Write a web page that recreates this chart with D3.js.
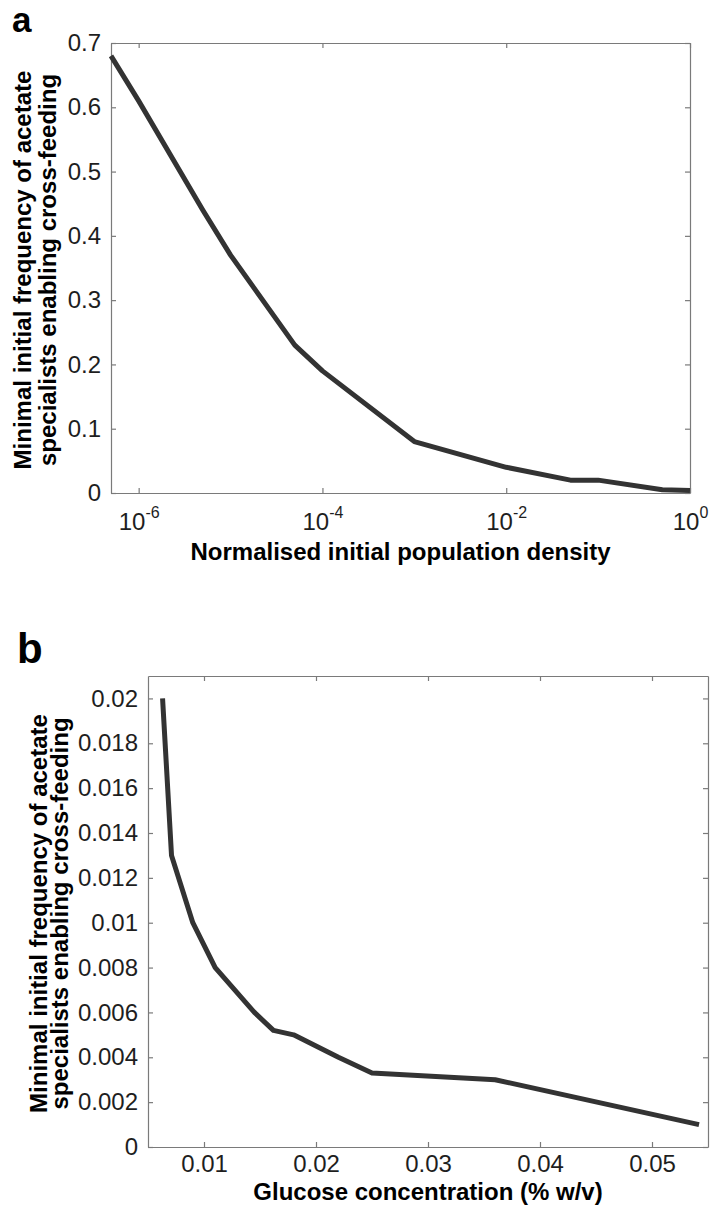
<!DOCTYPE html>
<html>
<head>
<meta charset="utf-8">
<script src="https://cdn.jsdelivr.net/npm/d3@7"></script>
<style>
    body { margin: 0; background: #fff; }
    svg text { font-family: "Liberation Sans", Arial, Helvetica, sans-serif; }
    .axis path, .axis line { stroke: #7a7a7a; stroke-width: 1.2; }
    .axis text { font-size: 24px; fill: #1e1e1e; }
    .title { font-size: 24px; font-weight: bold; fill: #000; }
    .panel-letter { font-weight: bold; fill: #000; }
</style>
</head>
<body>
<div id="chart"></div>
<script>
// panel a: threshold vs normalised initial population density
const densityValues = [5e-7, 1e-6, 5e-6, 1e-5, 5e-5, 1e-4, 1e-3, 1e-2, 5e-2, 1e-1, 5e-1, 1]
const densityFreq = [0.68, 0.61, 0.44, 0.37, 0.23, 0.19, 0.08, 0.04, 0.02, 0.02, 0.005, 0.004]
const densityTicks = [1e-6, 1e-4, 1e-2, 1]
const densityFreqTicks = [0, 0.1, 0.2, 0.3, 0.4, 0.5, 0.6, 0.7]

// panel b: threshold vs glucose concentration
const glucoseValues = [0.0063, 0.0071, 0.009, 0.011, 0.0145, 0.0162, 0.018, 0.022, 0.025, 0.036, 0.0542]
const glucoseFreq = [0.02, 0.013, 0.01, 0.008, 0.006, 0.0052, 0.005, 0.004, 0.0033, 0.003, 0.001]
const glucoseTicks = [0.01, 0.02, 0.03, 0.04, 0.05]
const glucoseFreqTicks = [0, 0.002, 0.004, 0.006, 0.008, 0.01, 0.012, 0.014, 0.016, 0.018, 0.02]

const yTitle = ['Minimal initial frequency of acetate', 'specialists enabling cross-feeding']

const dim = { width: 713, height: 1207 }

const wrapper = d3.select('#chart')
    .append('svg')
    .attr('width', dim.width)
    .attr('height', dim.height)

const fmt = d => String(+d.toFixed(4))

function drawPanel(opt) {
    const { left, top, right, bottom } = opt.box
    const g = wrapper.append('g')

    const xScale = opt.xScale.range([left, right])
    const yScale = d3.scaleLinear().domain(opt.yDomain).range([bottom, top])

    // box axes, ticks pointing inward like matlab
    const xAxis = g.append('g').attr('class', 'axis')
        .attr('transform', `translate(0,${bottom})`)
        .call(d3.axisBottom(xScale).tickValues(opt.xTicks)
            .tickSize(-5).tickSizeOuter(0).tickPadding(opt.xPad).tickFormat(opt.xFormat))
    g.append('g').attr('class', 'axis')
        .attr('transform', `translate(0,${top})`)
        .call(d3.axisTop(xScale).tickValues(opt.xTicks)
            .tickSize(-5).tickSizeOuter(0).tickFormat(''))
    g.append('g').attr('class', 'axis')
        .attr('transform', `translate(${left},0)`)
        .call(d3.axisLeft(yScale).tickValues(opt.yTicks)
            .tickSize(-5).tickSizeOuter(0).tickPadding(10).tickFormat(fmt))
    g.append('g').attr('class', 'axis')
        .attr('transform', `translate(${right},0)`)
        .call(d3.axisRight(yScale).tickValues(opt.yTicks)
            .tickSize(-5).tickSizeOuter(0).tickFormat(''))

    if (opt.logLabels) {
        xAxis.selectAll('.tick text').each(function (d) {
            const t = d3.select(this).text(null)
            t.append('tspan').text('10')
            t.append('tspan').attr('dy', -12).style('font-size', '16px')
                .text(Math.round(Math.log10(d)))
        })
    }

    const line = d3.line()
        .x(d => xScale(d[0]))
        .y(d => yScale(d[1]))
    g.append('path')
        .datum(d3.zip(opt.xs, opt.ys))
        .attr('d', line)
        .attr('fill', 'none')
        .attr('stroke', '#333')
        .attr('stroke-width', 5)
        .attr('stroke-linejoin', 'round')

    g.append('text').attr('class', 'title')
        .attr('x', (left + right) / 2).attr('y', opt.xTitleY)
        .attr('text-anchor', 'middle')
        .text(opt.xTitle)

    const yMid = (top + bottom) / 2 + 2
    yTitle.forEach((s, i) => {
        g.append('text').attr('class', 'title')
            .attr('transform', `translate(${opt.yTitleX[i]},${yMid}) rotate(-90)`)
            .attr('text-anchor', 'middle')
            .text(s)
    })

    g.append('text').attr('class', 'panel-letter')
        .attr('x', opt.letterPos[0]).attr('y', opt.letterPos[1])
        .style('font-size', opt.letterSize + 'px')
        .text(opt.letter)
}

drawPanel({
    box: { left: 111, top: 43, right: 690, bottom: 493 },
    xScale: d3.scaleLog().domain([5e-7, 1]),
    yDomain: [0, 0.7],
    xTicks: densityTicks,
    yTicks: densityFreqTicks,
    xFormat: d => d,
    xPad: 20,
    logLabels: true,
    xs: densityValues,
    ys: densityFreq,
    xTitle: 'Normalised initial population density',
    xTitleY: 560,
    yTitleX: [31, 56],
    letter: 'a',
    letterPos: [12, 32],
    letterSize: 35
})

drawPanel({
    box: { left: 148, top: 676, right: 708, bottom: 1147 },
    xScale: d3.scaleLinear().domain([0.005, 0.055]),
    yDomain: [0, 0.021],
    xTicks: glucoseTicks,
    yTicks: glucoseFreqTicks,
    xFormat: fmt,
    xPad: 8,
    logLabels: false,
    xs: glucoseValues,
    ys: glucoseFreq,
    xTitle: 'Glucose concentration (% w/v)',
    xTitleY: 1200,
    yTitleX: [47, 68],
    letter: 'b',
    letterPos: [17, 663],
    letterSize: 42
})
</script>
</body>
</html>
